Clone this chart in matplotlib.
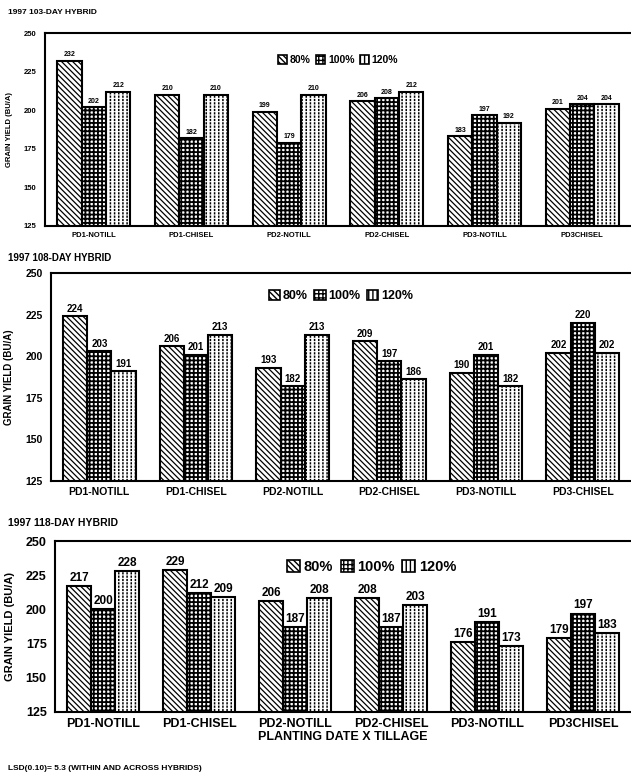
import numpy as np
import matplotlib
matplotlib.use('Agg')
import matplotlib.pyplot as plt
from matplotlib.patches import Patch

plt.rcParams['font.family'] = ['Liberation Sans', 'DejaVu Sans']
plt.rcParams['font.weight'] = 'bold'

# data
groups_a = ['PD1-NOTILL', 'PD1-CHISEL', 'PD2-NOTILL', 'PD2-CHISEL', 'PD3-NOTILL', 'PD3CHISEL']
groups_b = ['PD1-NOTILL', 'PD1-CHISEL', 'PD2-NOTILL', 'PD2-CHISEL', 'PD3-NOTILL', 'PD3-CHISEL']
groups_c = ['PD1-NOTILL', 'PD1-CHISEL', 'PD2-NOTILL', 'PD2-CHISEL', 'PD3-NOTILL', 'PD3CHISEL']
rates = ['80%', '100%', '120%']

h103_80 = [232, 210, 199, 206, 183, 201]
h103_100 = [202, 182, 179, 208, 197, 204]
h103_120 = [212, 210, 210, 212, 192, 204]

h108_80 = [224, 206, 193, 209, 190, 202]
h108_100 = [203, 201, 182, 197, 201, 220]
h108_120 = [191, 213, 213, 186, 182, 202]

h118_80 = [217, 229, 206, 208, 176, 179]
h118_100 = [200, 212, 187, 187, 191, 197]
h118_120 = [228, 209, 208, 203, 173, 183]

yticks = [125, 150, 175, 200, 225, 250]

W, H = 631, 777
fig = plt.figure(figsize=(W / 100, H / 100), dpi=100)

HATCH_80 = '\\\\\\\\\\\\'
HATCH_100 = '++++'
HATCH_120 = '||||'


def add_axes(left, top, bottom):
    return fig.add_axes([left / W, 1 - bottom / H, 1 - left / W, (bottom - top) / H])


def draw_bars(ax, x, vals, kind):
    if kind == 0:
        with plt.rc_context({'hatch.linewidth': 0.9}):
            ax.bar(x, vals, 0.25, color='white', edgecolor='black', hatch=HATCH_80, linewidth=0)
    elif kind == 1:
        with plt.rc_context({'hatch.linewidth': 1.3}):
            ax.bar(x, vals, 0.25, color='white', edgecolor='black', hatch=HATCH_100, linewidth=0)
    else:
        with plt.rc_context({'hatch.linewidth': 1.1}):
            ax.bar(x, vals, 0.25, color='white', edgecolor='black', hatch=HATCH_120, linewidth=0)
        with plt.rc_context({'hatch.linewidth': 0.8}):
            ax.bar(x, vals, 0.25, color='none', edgecolor='white', hatch='-----', linewidth=0)
    ax.bar(x, vals, 0.25, color='none', edgecolor='black', linewidth=1.5)


def legend_handles():
    return [Patch(facecolor='white', edgecolor='black', hatch=h, linewidth=1.2)
            for h in [HATCH_80, HATCH_100, HATCH_120]]


def panel(ax, title, cats, v80, v100, v120, fs, vfs, yfs, leg_fs, leg_x, leg_y, title_y, title_fs):
    x = np.arange(len(cats))
    for k, vals in enumerate([v80, v100, v120]):
        draw_bars(ax, x + (k - 1) * 0.25, vals, k)
        for xi, v in zip(x + (k - 1) * 0.25, vals):
            ax.text(xi, v + 1.5, str(v), ha='center', va='bottom', fontsize=vfs, fontweight='bold')
    ax.set_ylim(125, 250)
    ax.set_xlim(-0.5, 5.5)
    ax.set_yticks(yticks)
    ax.set_xticks(x)
    ax.set_xticklabels(cats, fontsize=fs, fontweight='bold')
    ax.tick_params(axis='y', labelsize=fs, length=0, pad=6)
    ax.tick_params(axis='x', length=0, pad=4)
    ax.spines['right'].set_visible(False)
    for s in ['left', 'bottom', 'top']:
        ax.spines[s].set_linewidth(1.5)
    ax.set_ylabel('GRAIN YIELD (BU/A)', fontsize=yfs, fontweight='bold', labelpad=8)
    ax.legend(legend_handles(), rates, ncol=3, frameon=False, loc='center',
              bbox_to_anchor=(leg_x, leg_y), fontsize=leg_fs, handlelength=0.9,
              handleheight=0.9, handletextpad=0.25, columnspacing=0.5)
    fig.text(8 / W, 1 - title_y / H, title, fontsize=title_fs, fontweight='bold', va='center')


ax1 = add_axes(45, 33, 226)
panel(ax1, '1997 103-DAY HYBRID', groups_a, h103_80, h103_100, h103_120,
      5.5, 5, 5.5, 7.5, 0.5, 0.86, 13, 6)

ax2 = add_axes(51, 273, 481)
panel(ax2, '1997 108-DAY HYBRID', groups_b, h108_80, h108_100, h108_120,
      7.5, 7, 7, 9, 0.5, 0.89, 258, 7)

ax3 = add_axes(55, 541, 712)
panel(ax3, '1997 118-DAY HYBRID', groups_c, h118_80, h118_100, h118_120,
      9, 8.5, 8, 10.5, 0.55, 0.85, 523, 7.5)
ax3.set_xlabel('PLANTING DATE X TILLAGE', fontsize=9, fontweight='bold', labelpad=1)

fig.text(8 / W, 1 - 768 / H, 'LSD(0.10)= 5.3 (WITHIN AND ACROSS HYBRIDS)', fontsize=6, va='center')

fig.savefig('out.png', dpi=100)
